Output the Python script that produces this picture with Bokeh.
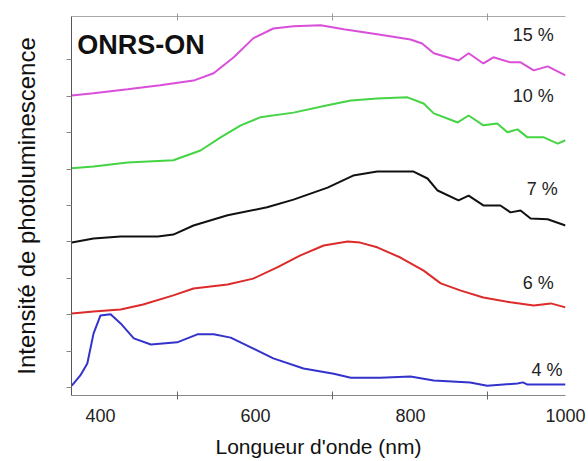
from bokeh.plotting import figure
from bokeh.models import FixedTicker, LinearAxis, Label, Range1d
from bokeh.embed import file_html
from bokeh.resources import INLINE

# ---- data ----
w15 = [363, 391, 435, 477, 520, 546, 572, 597, 623, 649, 684, 714, 757, 800, 815, 830, 862, 875, 894, 907, 929, 942, 959, 977, 1000]
i15 = [8.02, 8.08, 8.19, 8.30, 8.43, 8.63, 9.07, 9.59, 9.86, 9.92, 9.95, 9.84, 9.70, 9.56, 9.45, 9.18, 8.98, 9.18, 8.90, 9.07, 8.93, 8.93, 8.71, 8.82, 8.57]

w10 = [363, 391, 435, 494, 529, 555, 581, 606, 649, 693, 723, 757, 796, 817, 830, 861, 875, 894, 912, 925, 938, 951, 972, 990, 1000]
i10 = [6.02, 6.07, 6.18, 6.24, 6.51, 6.87, 7.20, 7.42, 7.55, 7.75, 7.88, 7.94, 7.97, 7.80, 7.53, 7.28, 7.47, 7.20, 7.25, 7.01, 7.09, 6.87, 6.87, 6.70, 6.79]

w7 = [363, 391, 426, 474, 494, 520, 564, 615, 649, 693, 726, 757, 804, 822, 835, 862, 875, 894, 916, 929, 942, 955, 977, 1000]
i7 = [3.98, 4.09, 4.15, 4.15, 4.20, 4.45, 4.73, 4.95, 5.16, 5.49, 5.82, 5.93, 5.93, 5.74, 5.41, 5.14, 5.27, 5.00, 5.00, 4.81, 4.86, 4.64, 4.62, 4.45]

w6 = [363, 391, 426, 455, 494, 520, 564, 597, 628, 658, 688, 719, 735, 757, 787, 817, 839, 865, 894, 929, 959, 981, 1000]
i6 = [2.03, 2.09, 2.14, 2.28, 2.53, 2.72, 2.83, 2.99, 3.30, 3.63, 3.90, 4.01, 3.98, 3.85, 3.57, 3.21, 2.86, 2.66, 2.47, 2.34, 2.25, 2.31, 2.20]

w4 = [363, 374, 383, 391, 400, 413, 426, 443, 465, 499, 525, 546, 568, 594, 623, 662, 701, 723, 761, 800, 830, 877, 899, 938, 945, 951, 1000]
i4 = [0.05, 0.33, 0.66, 1.48, 1.98, 2.01, 1.76, 1.35, 1.18, 1.24, 1.46, 1.46, 1.37, 1.10, 0.80, 0.52, 0.38, 0.27, 0.27, 0.30, 0.19, 0.14, 0.05, 0.11, 0.14, 0.08, 0.08]

series_labels = ["15 %", "10 %", "7 %", "6 %", "4 %"]
x_tick_values = [400, 600, 800, 1000]
x_minor_values = [500, 700, 900]
y_tick_values = [0, 1, 2, 3, 4, 5, 6, 7, 8, 9]

# ---- layout / styles ----
colors = ["#d94fd9", "#44d444", "#111111", "#dd2a2a", "#3333cc"]
label_x = [985, 985, 990, 985, 996]
label_y = [9.67, 8.02, 5.44, 2.86, 0.47]

p = figure(width=588, height=461, output_backend="svg", toolbar_location=None,
           x_range=Range1d(362.6, 1000), y_range=Range1d(-0.22, 10.19),
           min_border_left=71, min_border_right=23, min_border_top=16, min_border_bottom=66)
p.grid.visible = False
p.outline_line_color = None
p.background_fill_color = "white"
p.border_fill_color = "white"

for (w, i, c) in zip([w15, w10, w7, w6, w4], [i15, i10, i7, i6, i4], colors):
    p.line(w, i, line_color=c, line_width=2)

for t, lx, ly in zip(series_labels, label_x, label_y):
    p.add_layout(Label(x=lx, y=ly, text=t, text_align="right", text_baseline="middle",
                       text_font="Liberation Sans", text_font_size="18px", text_color="#222222"))

p.add_layout(Label(x=370, y=9.42, text="ONRS-ON", text_align="left", text_baseline="middle",
                   text_font="Liberation Sans", text_font_size="27px", text_font_style="bold",
                   text_color="#111111"))

# bottom axis
xa = p.xaxis[0]
xa.ticker = FixedTicker(ticks=x_tick_values, minor_ticks=x_minor_values)
xa.axis_line_color = "#888888"
xa.major_tick_line_color = None
xa.major_tick_in = 0
xa.major_tick_out = 0
xa.minor_tick_line_color = "#666666"
xa.minor_tick_in = 4
xa.minor_tick_out = 4
xa.major_label_standoff = 9
xa.major_label_text_font = "Liberation Sans"
xa.major_label_text_font_size = "18px"
xa.major_label_text_color = "#222222"
xa.axis_label = "Longueur d'onde (nm)"
xa.axis_label_text_font = "Liberation Sans"
xa.axis_label_text_font_size = "21px"
xa.axis_label_text_font_style = "normal"
xa.axis_label_text_color = "#111111"
xa.axis_label_standoff = 10

# left axis
ya = p.yaxis[0]
ya.ticker = FixedTicker(ticks=y_tick_values, minor_ticks=[])
ya.axis_line_color = "#555555"
ya.major_tick_line_color = "#888888"
ya.major_tick_in = 0
ya.major_tick_out = 5
ya.major_label_overrides = {t: "" for t in y_tick_values}
ya.major_label_standoff = 0
ya.axis_label = "Intensité de photoluminescence"
ya.axis_label_text_font = "Liberation Sans"
ya.axis_label_text_font_size = "24px"
ya.axis_label_text_font_style = "normal"
ya.axis_label_text_color = "#111111"
ya.axis_label_standoff = 27

# top axis
ta = LinearAxis(ticker=FixedTicker(ticks=x_minor_values, minor_ticks=[]))
ta.axis_line_color = "#aaaaaa"
ta.major_tick_line_color = "#999999"
ta.major_tick_in = 4
ta.major_tick_out = 3
ta.major_label_overrides = {t: "" for t in x_minor_values}
ta.major_label_standoff = 0
p.add_layout(ta, "above")

open("out.html", "w").write(file_html(p, INLINE))
